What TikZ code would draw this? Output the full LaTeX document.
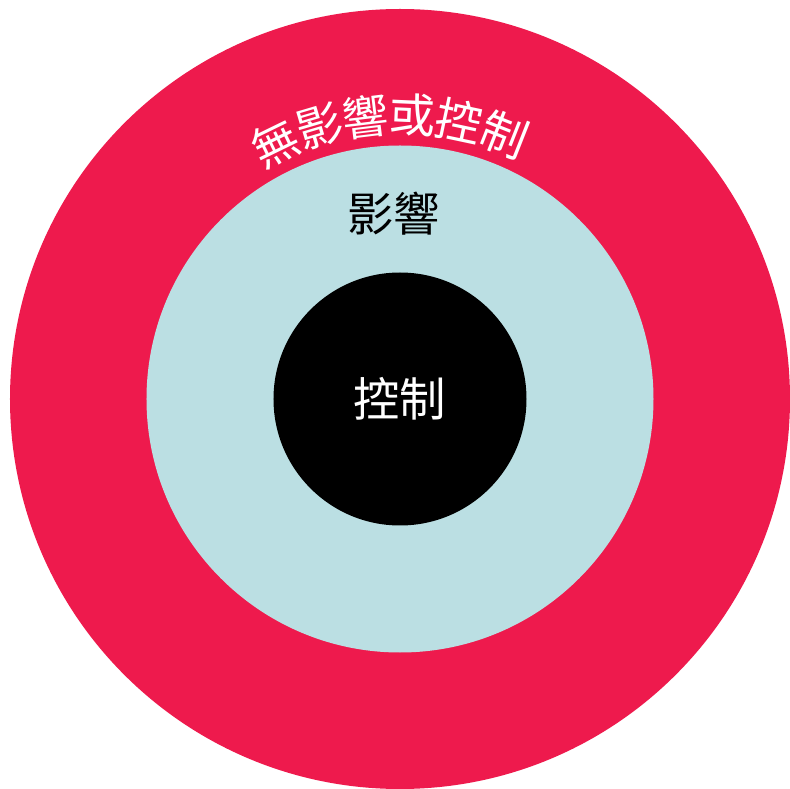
\documentclass[tikz,border=0pt]{standalone}
\usepackage{fontspec}
\newfontfamily\cjk{Noto Sans CJK TC}
\usepackage{tikz}
\usetikzlibrary{calc}
\definecolor{ringred}{RGB}{238,26,77}
\definecolor{ringblue}{RGB}{187,223,227}
\tikzset{
    ring/.style={circle, draw=none, inner sep=0pt},
    ringlabel/.style={font=\cjk\fontsize{33}{33}\selectfont, inner sep=0pt},
    arcchar/.style={ringlabel, text=white},
}

\begin{document}
\begin{tikzpicture}[x=0.025cm, y=0.025cm]
    \useasboundingbox[fill=white] (-400,-390) rectangle (390,399);
    % three nested zones
    \node[ring, fill=ringred, minimum size=780*0.025cm] (outer) at (0,0) {};
    \node[ring, fill=ringblue, minimum size=507*0.025cm] (middle) at (0,0) {};
    \node[ring, fill=black, minimum size=253*0.025cm] (inner) at (0,0) {};

    % labels
    \node[ringlabel, text=white] (control) at (inner.center) {控制};
    \node[ringlabel, text=black] (influence) at (-6,185) {影響};
    \foreach \ch/\a [count=\i] in {無/116, 影/106.5, 響/97, 或/87.5, 控/78, 制/68.5}
        \node[arcchar, rotate=\a-90] (arc\i) at (\a:284) {\ch};
\end{tikzpicture}
\end{document}
